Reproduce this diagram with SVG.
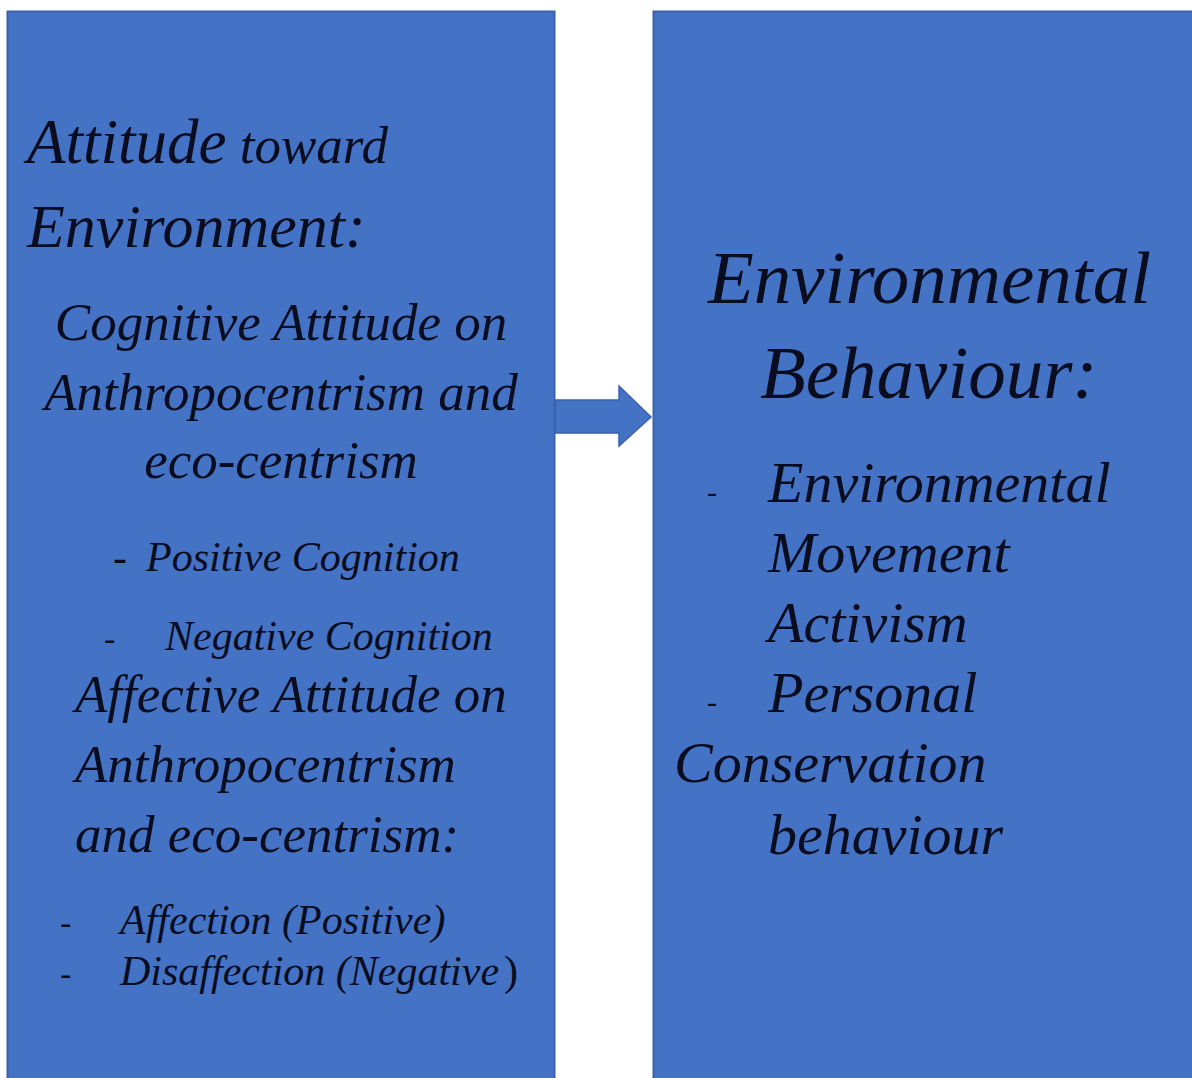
<svg xmlns="http://www.w3.org/2000/svg" width="1192" height="1078" viewBox="0 0 1192 1078">
<style>
.box{fill:#4472C4;stroke:#3A62AA;stroke-width:2}
.t{font-family:"Liberation Serif","Times New Roman",serif;font-style:italic;fill:#0A0D1F}
.d{font-family:"Liberation Serif","Times New Roman",serif;fill:#0A0D1F}
</style>
<rect x="0" y="0" width="1192" height="1078" fill="#FFFFFF"/>
<g id="connectors">
<polygon points="555,400 619,400 619,386 651,417 619,446 619,433 555,433" fill="#4472C4" stroke="#3A62AA" stroke-width="1.5"/>
</g>
<g id="node-attitude">
<rect class="box" x="7.5" y="11.5" width="547" height="1080"/>
<text class="t" x="27" y="163"><tspan font-size="63">Attitude</tspan><tspan font-size="53"> toward</tspan></text>
<text class="t" x="27" y="247" font-size="62">Environment:</text>
<text class="t" x="281" y="340" font-size="53" text-anchor="middle">Cognitive Attitude on</text>
<text class="t" x="281" y="410" font-size="53" text-anchor="middle">Anthropocentrism and</text>
<text class="t" x="281" y="478" font-size="53" text-anchor="middle">eco-centrism</text>
<text class="d" x="113" y="571" font-size="42">-</text>
<text class="t" x="146" y="571" font-size="42">Positive Cognition</text>
<text class="d" x="104" y="650" font-size="34">-</text>
<text class="t" x="165" y="650" font-size="42">Negative Cognition</text>
<text class="t" x="75" y="712" font-size="53">Affective Attitude on</text>
<text class="t" x="75" y="782" font-size="53">Anthropocentrism</text>
<text class="t" x="75" y="852" font-size="53">and eco-centrism:</text>
<text class="d" x="60" y="934" font-size="34">-</text>
<text class="t" x="120" y="934" font-size="42">Affection (Positive)</text>
<text class="d" x="60" y="985" font-size="34">-</text>
<text class="t" x="120" y="985" font-size="42">Disaffection (Negative</text>
<text class="d" x="504" y="985" font-size="42">)</text>
</g>
<g id="node-behaviour">
<rect class="box" x="653.5" y="11.5" width="547" height="1080"/>
<text class="t" x="708" y="303" font-size="75">Environmental</text>
<text class="t" x="760" y="398" font-size="75">Behaviour:</text>
<text class="d" x="707" y="502" font-size="30">-</text>
<text class="t" x="768" y="502" font-size="58">Environmental</text>
<text class="t" x="768" y="572" font-size="58">Movement</text>
<text class="t" x="768" y="642" font-size="58">Activism</text>
<text class="d" x="707" y="712" font-size="30">-</text>
<text class="t" x="768" y="712" font-size="58">Personal</text>
<text class="t" x="674" y="782" font-size="58">Conservation</text>
<text class="t" x="768" y="854" font-size="58">behaviour</text>
</g>
</svg>
